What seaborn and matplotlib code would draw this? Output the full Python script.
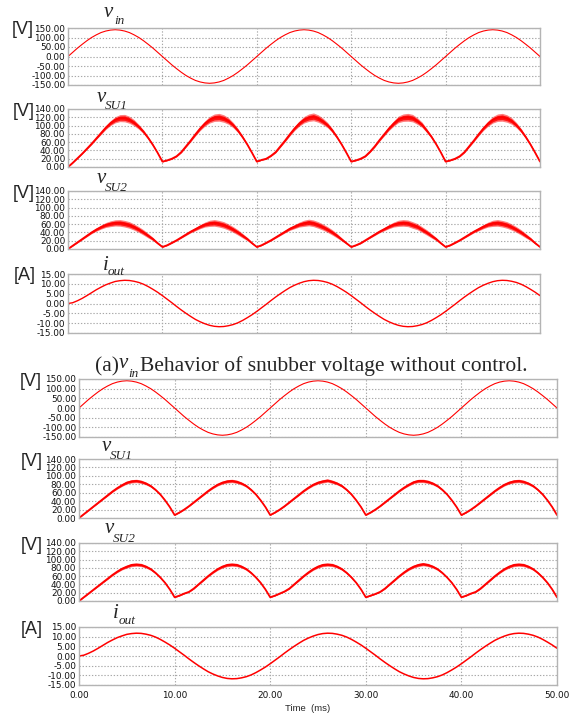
import matplotlib
matplotlib.use("Agg")
import matplotlib.pyplot as plt
import numpy as np
import seaborn as sns

time_ms = np.arange(0, 50.5, 0.5)

v_in = [0, 22, 44, 64, 83, 100, 114, 126, 134, 139, 141, 139, 134, 126, 114, 100, 83, 64, 44, 22,
        0, -22, -44, -64, -83, -100, -114, -126, -134, -139, -141, -139, -134, -126, -114, -100, -83, -64, -44, -22,
        0, 22, 44, 64, 83, 100, 114, 126, 134, 139, 141, 139, 134, 126, 114, 100, 83, 64, 44, 22,
        0, -22, -44, -64, -83, -100, -114, -126, -134, -139, -141, -139, -134, -126, -114, -100, -83, -64, -44, -22,
        0, 22, 44, 64, 83, 100, 114, 126, 134, 139, 141, 139, 134, 126, 114, 100, 83, 64, 44, 22, 0]

i_out = [0.0, 0.4, 1.4, 2.6, 4.0, 5.5, 7.0, 8.3, 9.5, 10.4, 11.2, 11.6, 11.8, 11.7, 11.3, 10.7, 9.8, 8.6, 7.2, 5.7,
         4.0, 2.2, 0.4, -1.5, -3.3, -5.0, -6.6, -8.1, -9.3, -10.3, -11.1, -11.6, -11.8, -11.7, -11.3, -10.7, -9.8, -8.6, -7.2, -5.7,
         -4.0, -2.2, -0.4, 1.5, 3.3, 5.0, 6.6, 8.1, 9.3, 10.3, 11.1, 11.6, 11.8, 11.7, 11.3, 10.7, 9.8, 8.6, 7.2, 5.7,
         4.0, 2.2, 0.4, -1.5, -3.3, -5.0, -6.6, -8.1, -9.3, -10.3, -11.1, -11.6, -11.8, -11.7, -11.3, -10.7, -9.8, -8.6, -7.2, -5.7,
         -4.0, -2.2, -0.4, 1.5, 3.3, 5.0, 6.6, 8.1, 9.3, 10.3, 11.1, 11.6, 11.8, 11.7, 11.3, 10.7, 9.8, 8.6, 7.2, 5.7, 4.0]

# snubber voltages: middle of the ripple band and its width (V)
# (a) without control
v_su1_a_mid = [0, 10, 21, 32, 44, 56, 69, 82, 95, 106, 114, 118, 118, 114, 107, 97, 85, 70, 53, 34, 13,
               16, 20, 26, 36, 50, 64, 79, 93, 105, 114, 119, 120, 117, 111, 101, 88, 72, 54, 34, 13,
               17, 20, 27, 36, 50, 64, 79, 93, 105, 114, 119, 121, 117, 110, 101, 88, 72, 54, 34, 13,
               16, 20, 26, 37, 50, 65, 79, 93, 105, 115, 119, 120, 118, 111, 102, 88, 73, 55, 35, 13,
               16, 20, 26, 36, 50, 64, 79, 93, 105, 114, 119, 120, 117, 111, 101, 88, 72, 54, 34, 13]
v_su1_a_width = [1, 1, 2, 2, 3, 4, 5, 7, 9, 12, 15, 17, 18, 17, 15, 12, 9, 7, 5, 3, 2,
                 2, 3, 3, 4, 5, 6, 8, 10, 13, 16, 18, 19, 18, 16, 13, 10, 7, 5, 3, 2,
                 2, 3, 3, 4, 5, 6, 8, 10, 13, 16, 18, 19, 18, 16, 13, 10, 7, 5, 3, 2,
                 2, 3, 3, 4, 5, 6, 8, 10, 13, 16, 18, 19, 18, 16, 13, 10, 7, 5, 3, 2,
                 2, 3, 3, 4, 5, 6, 8, 10, 13, 16, 18, 19, 18, 16, 13, 10, 7, 5, 3, 2]
v_su2_a_mid = [0, 8, 16, 24, 32, 40, 47, 53, 58, 61, 63, 63, 61, 58, 53, 47, 40, 32, 24, 14, 5,
               9, 15, 21, 28, 35, 42, 48, 54, 59, 62, 63, 61, 58, 53, 47, 40, 32, 24, 14, 5,
               9, 15, 21, 28, 35, 42, 49, 54, 59, 62, 64, 62, 58, 53, 47, 40, 32, 23, 14, 5,
               9, 14, 21, 28, 35, 42, 48, 54, 59, 62, 63, 62, 58, 54, 47, 40, 32, 24, 14, 5,
               9, 15, 21, 28, 35, 42, 48, 54, 59, 62, 63, 61, 58, 53, 47, 40, 32, 24, 14, 5]
v_su2_a_width = [1, 2, 3, 4, 5, 6, 8, 10, 12, 14, 15, 16, 16, 16, 15, 14, 13, 11, 8, 5, 2,
                 2, 3, 3, 4, 5, 6, 8, 10, 12, 15, 16, 16, 16, 15, 14, 13, 11, 8, 5, 2,
                 2, 3, 3, 4, 5, 6, 8, 10, 12, 15, 16, 16, 16, 15, 14, 13, 11, 8, 5, 2,
                 2, 3, 3, 4, 5, 6, 8, 10, 12, 15, 16, 16, 16, 15, 14, 13, 11, 8, 5, 2,
                 2, 3, 3, 4, 5, 6, 8, 10, 12, 15, 16, 16, 16, 15, 14, 13, 11, 8, 5, 2]
# (b) with control
v_su1_b_mid = [0, 9, 18, 27, 36, 45, 54, 63, 71, 78, 84, 87, 88, 86, 82, 76, 67, 56, 42, 26, 7,
               13, 20, 28, 37, 46, 55, 64, 72, 79, 84, 87, 88, 86, 82, 76, 67, 56, 42, 26, 7,
               13, 20, 28, 37, 46, 55, 64, 72, 79, 84, 87, 89, 86, 82, 76, 67, 56, 42, 26, 7,
               13, 20, 28, 37, 46, 55, 64, 72, 79, 85, 88, 88, 86, 82, 76, 67, 56, 42, 26, 7,
               13, 20, 28, 37, 46, 55, 64, 72, 79, 84, 87, 88, 86, 82, 76, 67, 56, 42, 26, 7]
v_su1_b_width = [1, 1.5, 2, 2, 3, 3, 4, 4, 5, 6, 7, 8, 8, 8, 7, 6, 5, 4, 3, 2, 1.5,
                 2, 2, 2, 3, 3, 4, 4, 5, 6, 7, 8, 8, 8, 7, 6, 5, 4, 3, 2, 1.5,
                 2, 2, 2, 3, 3, 4, 4, 5, 6, 7, 8, 8, 8, 7, 6, 5, 4, 3, 2, 1.5,
                 2, 2, 2, 3, 3, 4, 4, 5, 6, 7, 8, 8, 8, 7, 6, 5, 4, 3, 2, 1.5,
                 2, 2, 2, 3, 3, 4, 4, 5, 6, 7, 8, 8, 8, 7, 6, 5, 4, 3, 2, 1.5]
v_su2_b_mid = [0, 9, 18, 27, 36, 45, 54, 63, 71, 78, 83, 87, 88, 87, 83, 77, 68, 57, 44, 28, 9,
               13, 18, 22, 30, 40, 50, 60, 69, 77, 83, 87, 88, 87, 83, 77, 68, 57, 44, 28, 9,
               13, 18, 23, 30, 40, 50, 60, 69, 77, 83, 87, 88, 87, 83, 77, 68, 57, 44, 28, 9,
               13, 17, 22, 30, 40, 50, 60, 69, 77, 83, 87, 89, 87, 83, 77, 68, 57, 44, 28, 9,
               13, 18, 22, 30, 40, 50, 60, 69, 77, 83, 87, 88, 87, 83, 77, 68, 57, 44, 28, 9]
v_su2_b_width = v_su1_b_width

x_ticks = [0, 10, 20, 30, 40, 50]
v_in_ticks = [-150, -100, -50, 0, 50, 100, 150]
v_su_ticks = [0, 20, 40, 60, 80, 100, 120, 140]
i_out_ticks = [-15, -10, -5, 0, 5, 10, 15]

# --- figure ---
sns.set_style("white")
plt.rcParams["font.family"] = ["Liberation Sans", "DejaVu Sans"]

W, H = 574, 713
fig = plt.figure(figsize=(W / 100, H / 100), dpi=100)
fig.patch.set_facecolor("white")
RED = "#ff0000"
SERIF = "Liberation Serif"
TICK_FONT = "DejaVu Sans"   # wider digits, closer to the stretched labels of the original


def add_panel(x0, y0, x1, y1, yticks, unit, main, sub, lab_pos, unit_right, show_x=False):
    ax = fig.add_axes([x0 / W, 1 - y1 / H, (x1 - x0) / W, (y1 - y0) / H])
    ax.set_xlim(0, 50)
    ax.set_ylim(yticks[0], yticks[-1])
    ax.set_xticks(x_ticks)
    ax.set_yticks(yticks)
    ax.set_yticklabels([f"{v:.2f}" for v in yticks], family=TICK_FONT)
    if show_x:
        ax.set_xticklabels([f"{v:.2f}" for v in x_ticks], family=TICK_FONT)
    else:
        ax.set_xticklabels([])
    ax.tick_params(length=0, labelsize=6.4, pad=2, labelcolor="#111111")
    ax.tick_params(axis="x", pad=4)
    ax.grid(True, linestyle=(0, (1.2, 1.6)), color="#a8a8a8", linewidth=0.8)
    for s in ax.spines.values():
        s.set_color("#b4b4b4")
        s.set_linewidth(1.0)
    # unit label and trace name
    fig.text(unit_right / W, 1 - (y0 + 2) / H, unit, ha="right", va="center", fontsize=13)
    vx, vy, sx, sy = lab_pos
    fig.text(vx / W, 1 - vy / H, main, fontsize=15, family=SERIF, style="italic", va="baseline")
    fig.text(sx / W, 1 - sy / H, sub, fontsize=9.5, family=SERIF, style="italic", va="baseline")
    return ax


def draw_sine(ax, y, lw=0.8):
    sns.lineplot(x=time_ms, y=y, ax=ax, color=RED, linewidth=lw)
    ax.set_xlabel("")
    ax.set_ylabel("")


def draw_band(ax, mid, width):
    mid = np.array(mid, dtype=float)
    half = np.array(width, dtype=float) / 2
    # light outer ripple envelope, dense core
    ax.fill_between(time_ms, mid - half, mid + half, color=RED, alpha=0.5, linewidth=0)
    ax.fill_between(time_ms, mid - 0.6 * half, mid + 0.6 * half, color=RED, alpha=0.85, linewidth=0)
    sns.lineplot(x=time_ms, y=mid, ax=ax, color=RED, linewidth=1.3)
    ax.set_xlabel("")
    ax.set_ylabel("")


# (a) without control
ax = add_panel(68, 28, 540, 85, v_in_ticks, "[V]", "v", "in", (104, 17, 114, 24), 34)
draw_sine(ax, v_in)
ax = add_panel(68, 109, 540, 167, v_su_ticks, "[V]", "v", "SU1", (97, 102, 105, 109), 35)
draw_band(ax, v_su1_a_mid, v_su1_a_width)
ax = add_panel(68, 191, 540, 249, v_su_ticks, "[V]", "v", "SU2", (97, 183, 105, 191), 35)
draw_band(ax, v_su2_a_mid, v_su2_a_width)
ax = add_panel(68, 274, 540, 333, i_out_ticks, "[A]", "i", "out", (103, 270, 108, 275), 36)
draw_sine(ax, i_out, lw=1.0)

fig.text(95 / W, 1 - 371 / H, "(a)", fontsize=15.5, family=SERIF, va="baseline")
fig.text(140 / W, 1 - 371 / H, "Behavior of snubber voltage without control.",
         fontsize=15.5, family=SERIF, va="baseline")

# (b) with control
ax = add_panel(79, 379, 557, 437, v_in_ticks, "[V]", "v", "in", (119, 368, 128, 377), 42)
draw_sine(ax, v_in)
ax = add_panel(79, 459, 557, 518, v_su_ticks, "[V]", "v", "SU1", (102, 451, 110, 459), 43)
draw_band(ax, v_su1_b_mid, v_su1_b_width)
ax = add_panel(79, 543, 557, 601, v_su_ticks, "[V]", "v", "SU2", (105, 533, 113, 542), 43)
draw_band(ax, v_su2_b_mid, v_su2_b_width)
ax = add_panel(79, 627, 557, 685, i_out_ticks, "[A]", "i", "out", (113, 618, 119, 624), 43,
               show_x=True)
draw_sine(ax, i_out, lw=1.1)

fig.text(308 / W, 1 - 711 / H, "Time  (ms)", ha="center", va="baseline", fontsize=6.8)

fig.savefig("out.png", dpi=100, facecolor="white")
